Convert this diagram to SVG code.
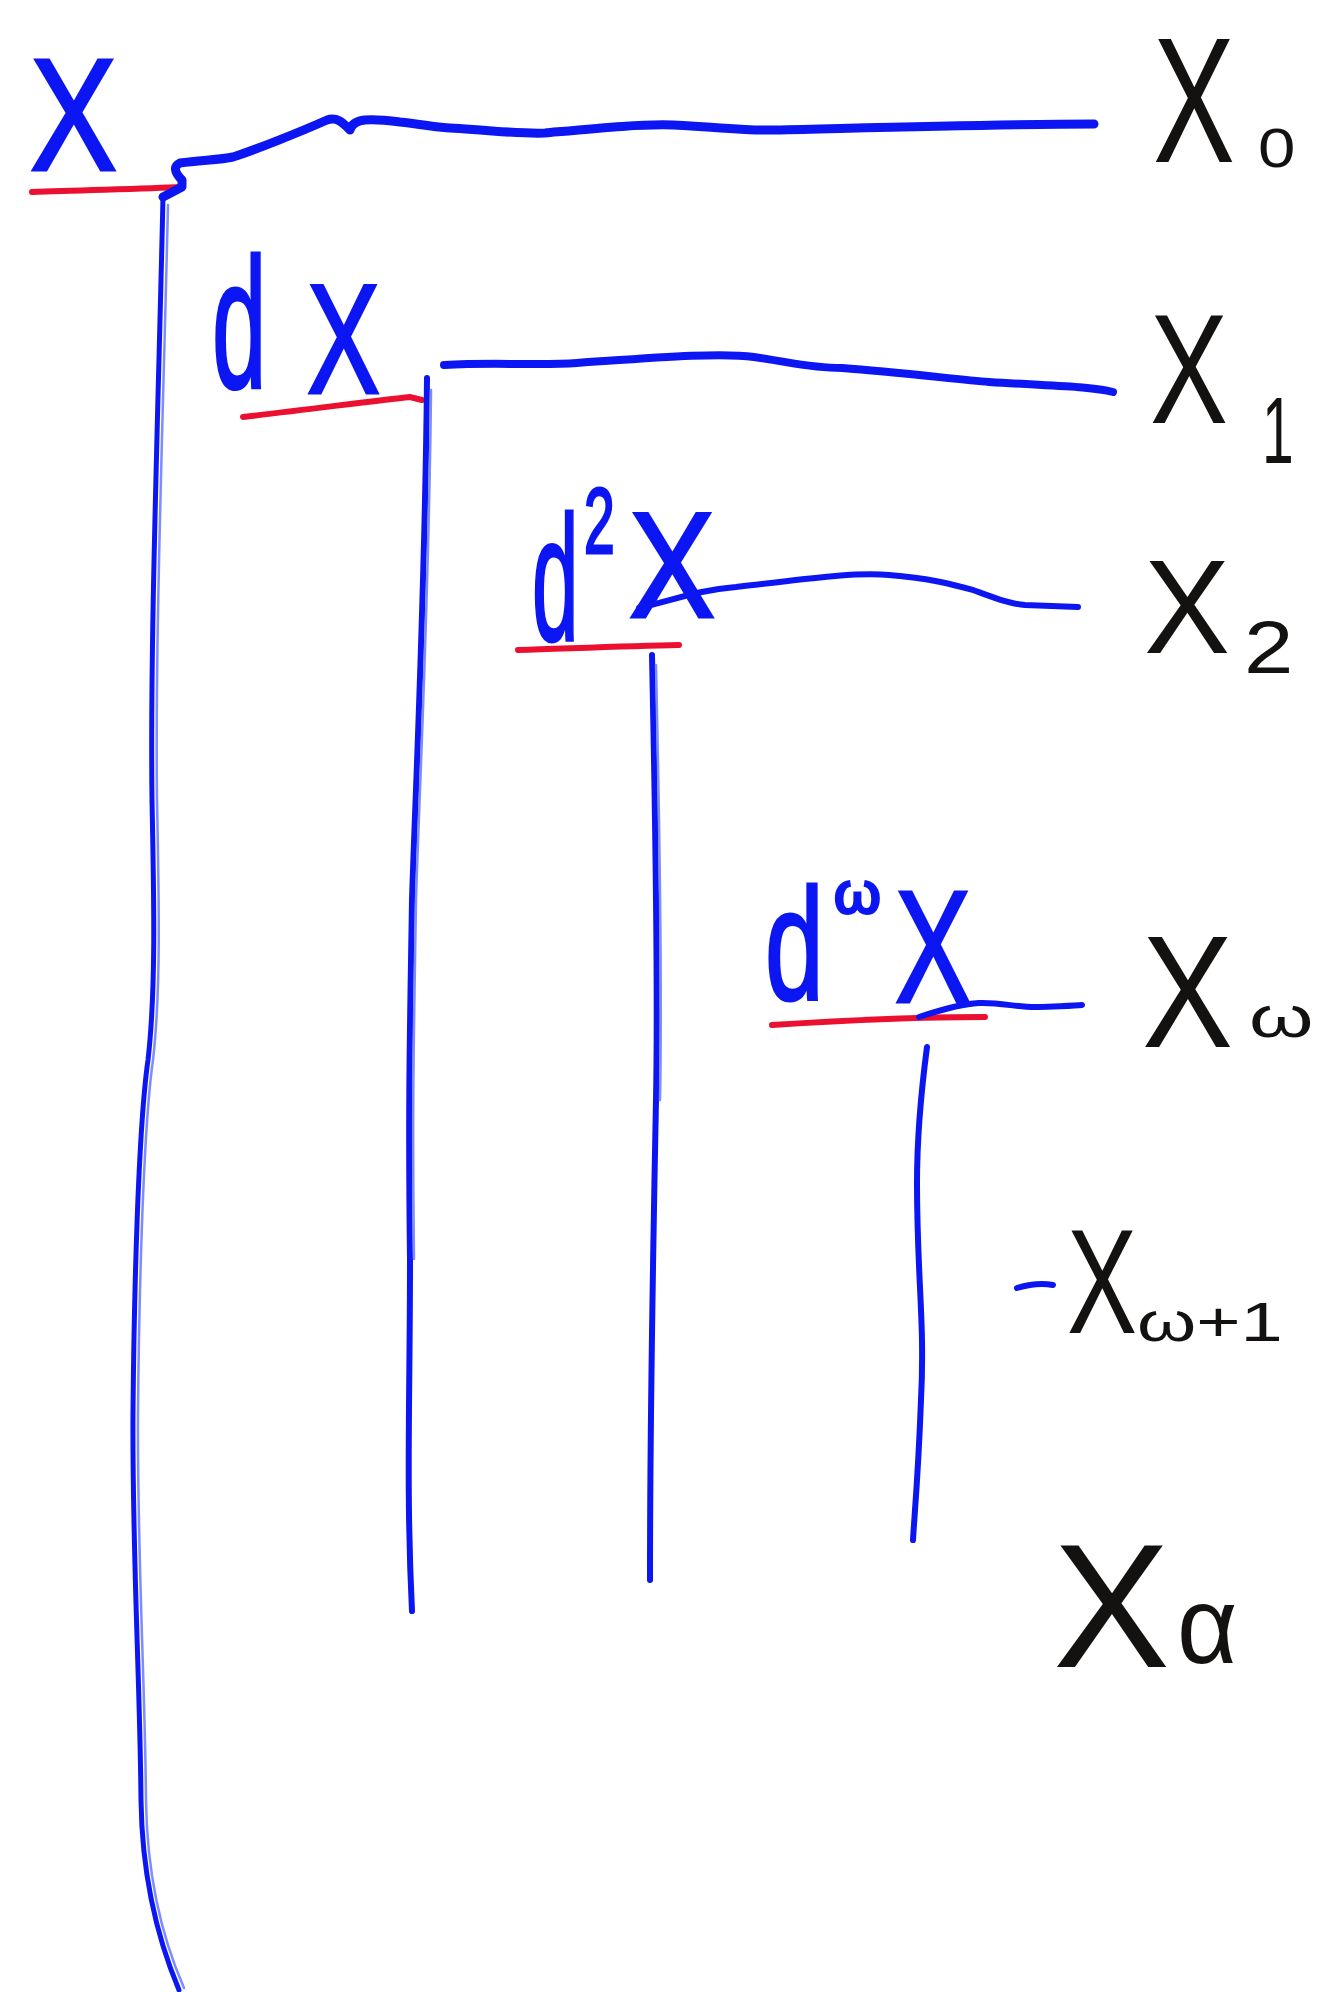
<svg xmlns="http://www.w3.org/2000/svg" width="1324" height="1992" viewBox="0 0 1324 1992">
<style>
.bl{fill:#0c16f2;stroke:#0c16f2;stroke-width:3;font-family:"Liberation Sans",Arial,sans-serif}
.bk{fill:#141210;font-family:"Liberation Sans",Arial,sans-serif}
.ln{fill:none;stroke:#0c16f2;stroke-linecap:round;stroke-linejoin:round}
.ln2{fill:none;stroke:#7d8cff;stroke-width:2.5;stroke-linecap:round}
.rd{fill:none;stroke:#ec1030;stroke-width:6;stroke-linecap:round}
</style>
<rect width="1324" height="1992" fill="#ffffff"/>
<g id="connectors">
  <path class="rd" d="M32,192 C80,190 140,189 182,187"/>
  <path class="rd" d="M243,417 C320,408 380,400 410,397 L422,400"/>
  <path class="rd" d="M518,650 C580,648 630,646 679,645"/>
  <path class="rd" d="M772,1025 C850,1020 930,1017 985,1017"/>
  <path class="ln" stroke-width="9" d="M163,197 L182,187 L182,180 Q170,168 180,163 C200,160 220,160 233,157 C255,150 300,132 327,120 C338,116 345,125 350,130 C353,118 370,118 400,122 C420,124 440,128 450,128 C500,131 520,134 545,133 C600,128 640,124 673,125 C720,127 745,131 775,130 C900,127 1000,124 1094,124"/>
  <path class="ln" stroke-width="5" d="M163,197 C158,420 150,640 152,800 C154,900 156,990 148,1060 C138,1130 134,1300 133,1412 C132,1550 140,1680 141,1800 C142,1880 158,1940 179,1990"/>
  <path class="ln2" d="M168,205 C163,420 155,640 157,800 C159,900 161,990 153,1060 C143,1130 139,1300 138,1412 C137,1550 145,1680 146,1800 C147,1880 163,1940 184,1988"/>
  <path class="ln" stroke-width="8" d="M444,365 C500,362 540,366 577,363 C650,358 720,352 754,357 C790,362 810,368 842,368 C900,372 960,380 989,382 C1050,386 1090,386 1113,392"/>
  <path class="ln" stroke-width="6" d="M427,378 C425,600 415,800 412,900 C410,1030 408,1100 410,1259 C410,1400 406,1489 412,1611"/>
  <path class="ln2" d="M431,390 C429,600 419,800 416,900 C414,1030 412,1100 414,1259"/>
  <path class="ln" stroke-width="6" d="M639,608 C680,598 700,590 736,587 C800,580 850,572 889,575 C930,578 955,585 973,590 C995,598 1010,604 1025,605 L1078,607"/>
  <path class="ln" stroke-width="6" d="M652,655 C655,800 658,1000 656,1100 C653,1259 650,1400 650,1580"/>
  <path class="ln2" d="M656,665 C659,800 662,1000 660,1100"/>
  <path class="ln" stroke-width="6" d="M919,1017 C940,1010 960,1004 979,1003 C1000,1002 1020,1008 1038,1007 C1060,1006 1075,1006 1082,1005"/>
  <path class="ln" stroke-width="6" d="M927,1047 C920,1100 917,1150 917,1183 C917,1280 925,1320 921,1400 C918,1480 914,1520 913,1540"/>
  <path class="ln" stroke-width="6" d="M1017,1288 C1030,1284 1043,1283 1053,1285"/>
</g>
<g id="node-X">
  <text class="bl" transform="translate(30,170) scale(0.815,1)" font-size="160">X</text>
</g>
<g id="node-dX">
  <text class="bl" transform="translate(212,388) scale(0.53,1)" font-size="185">d</text>
  <text class="bl" transform="translate(307,393) scale(0.706,1)" font-size="155">X</text>
</g>
<g id="node-d2X">
  <text class="bl" transform="translate(532,640) scale(0.47,1)" font-size="178">d</text>
  <text class="bl" transform="translate(584,553) scale(0.6,1)" font-size="92">2</text>
  <text class="bl" transform="translate(629,617) scale(0.86,1)" font-size="150">X</text>
</g>
<g id="node-dwX">
  <text class="bl" transform="translate(765,1000) scale(0.66,1)" font-size="160">d</text>
  <text class="bl" transform="translate(834,913) scale(1.05,1)" font-size="57">ω</text>
  <text class="bl" transform="translate(895,1002) scale(0.712,1)" font-size="160">X</text>
</g>
<g id="label-X0">
  <text class="bk" transform="translate(1153,162) scale(0.69,1)" font-size="178">X</text>
  <text class="bk" transform="translate(1258,167) scale(1.2,1)" font-size="56">0</text>
</g>
<g id="label-X1">
  <text class="bk" transform="translate(1150,423) scale(0.754,1)" font-size="155">X</text>
  <text class="bk" transform="translate(1262,463) scale(0.6,1)" font-size="95">1</text>
</g>
<g id="label-X2">
  <text class="bk" transform="translate(1144,653) scale(0.97,1)" font-size="133">X</text>
  <text class="bk" transform="translate(1244,673) scale(1.2,1)" font-size="74">2</text>
</g>
<g id="label-Xw">
  <text class="bk" transform="translate(1142,1047) scale(0.858,1)" font-size="159">X</text>
  <text class="bk" transform="translate(1249,1037) scale(1.45,1)" font-size="57">ω</text>
</g>
<g id="label-Xw1">
  <text class="bk" transform="translate(1067,1333) scale(0.709,1)" font-size="148">X</text>
  <text class="bk" transform="translate(1137,1341) scale(1.38,1)" font-size="55">ω+1</text>
</g>
<g id="label-Xa">
  <text class="bk" transform="translate(1053,1667) scale(0.99,1)" font-size="177">X</text>
  <text class="bk" transform="translate(1177,1663) scale(0.95,1)" font-size="110">α</text>
</g>
</svg>
